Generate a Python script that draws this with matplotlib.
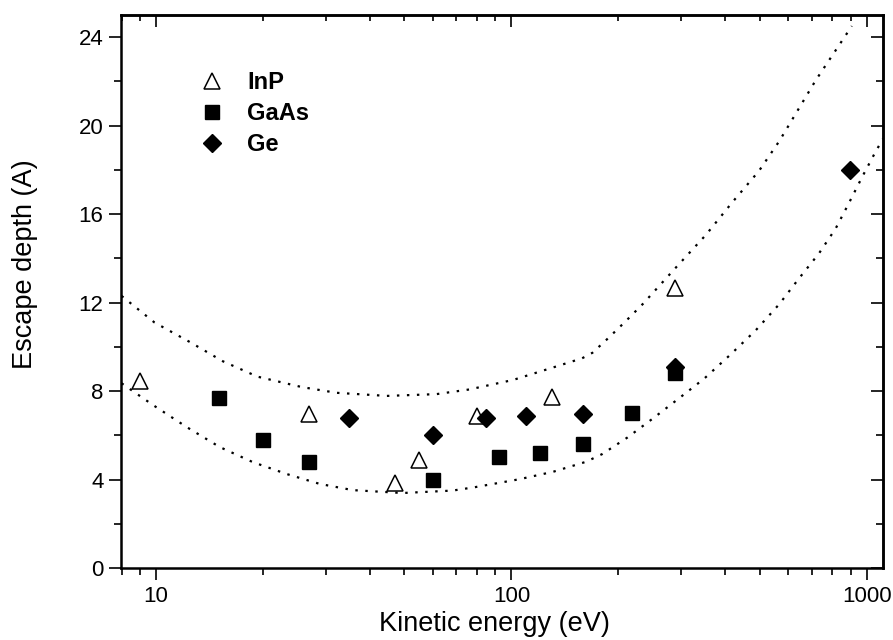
import matplotlib
matplotlib.use("Agg")
import matplotlib.pyplot as plt
from matplotlib.ticker import MultipleLocator, LogLocator, NullFormatter, FixedLocator, FixedFormatter

plt.rcParams['font.family'] = ['Liberation Sans', 'DejaVu Sans']

# measured points (kinetic energy in eV, escape depth in A)
inp_e = [9, 27, 47, 55, 80, 130, 289]
inp_d = [8.45, 6.95, 3.85, 4.9, 6.85, 7.75, 12.65]

gaas_e = [15, 20, 27, 60, 92, 120, 159, 219, 289]
gaas_d = [7.7, 5.8, 4.8, 4.0, 5.0, 5.2, 5.6, 7.0, 8.8]

ge_e = [35, 60, 85, 110, 159, 289, 896]
ge_d = [6.8, 6.0, 6.78, 6.88, 6.97, 9.1, 18.0]

# dotted envelope curves
upper_e = [8.0, 9.9, 12.5, 15.4, 19.3, 25.7, 32.2, 44.6, 61.5, 76, 101, 133, 158, 169,
           188, 210, 234, 287, 352, 419, 497, 567, 718, 907]
upper_d = [12.3, 11.1, 10.2, 9.35, 8.65, 8.18, 7.92, 7.78, 7.86, 8.07, 8.5, 9.1, 9.48, 9.73,
           10.42, 11.17, 11.93, 13.5, 15.05, 16.55, 17.95, 19.3, 22.05, 24.5]

lower_e = [8.0, 9.8, 12.2, 15.1, 18.7, 23.3, 28.9, 35.8, 49.4, 68.3, 78.7, 105, 131, 162,
           180, 212, 250, 296, 349, 414, 487, 567, 644, 733, 817, 889, 970, 1057, 1110]
lower_d = [8.35, 7.37, 6.37, 5.47, 4.79, 4.25, 3.8, 3.52, 3.39, 3.5, 3.65, 4.01, 4.35, 4.8,
           5.15, 5.9, 6.76, 7.67, 8.57, 9.66, 10.75, 11.93, 13.09, 14.22, 15.35, 16.48, 17.68, 18.81, 19.4]

fig = plt.figure(figsize=(8.93, 6.4), dpi=100)
ax = fig.add_axes([121/893, 1 - 568/640, 762/893, 553/640])

dot = (0, (1.1, 3.4))
ax.plot(upper_e, upper_d, color='black', lw=1.6, linestyle=dot)
ax.plot(lower_e, lower_d, color='black', lw=1.6, linestyle=dot)

ax.plot(inp_e, inp_d, linestyle='none', marker='^', ms=12, mfc='white', mec='black', mew=1.1, label='InP')
ax.plot(gaas_e, gaas_d, linestyle='none', marker='s', ms=9.5, color='black', label='GaAs')
ax.plot(ge_e, ge_d, linestyle='none', marker='D', ms=9, color='black', label='Ge')

ax.set_xscale('log')
ax.set_xlim(7.97, 1110)
ax.set_ylim(0, 25)

ax.xaxis.set_major_locator(FixedLocator([10, 100, 1000]))
ax.xaxis.set_major_formatter(FixedFormatter(['10', '100', '1000']))
ax.xaxis.set_minor_locator(LogLocator(base=10, subs=range(2, 10)))
ax.xaxis.set_minor_formatter(NullFormatter())
ax.yaxis.set_major_locator(MultipleLocator(4))
ax.yaxis.set_minor_locator(MultipleLocator(2))

for s in ax.spines.values():
    s.set_linewidth(1.8)

ax.tick_params(which='both', direction='out', width=1.2, labelsize=16, top=False, right=False)
ax.tick_params(which='major', length=8.6, pad=4)
ax.tick_params(which='minor', length=5)

# inward ticks on top and right
ax_top = ax.secondary_xaxis('top')
ax_top.xaxis.set_major_locator(FixedLocator([10, 100, 1000]))
ax_top.xaxis.set_minor_locator(LogLocator(base=10, subs=range(2, 10)))
ax_top.tick_params(which='both', direction='in', width=1.2, labeltop=False)
ax_top.tick_params(which='major', length=8.6)
ax_top.tick_params(which='minor', length=4.5)
ax_top.spines['top'].set_linewidth(1.8)

ax_right = ax.secondary_yaxis('right')
ax_right.yaxis.set_major_locator(MultipleLocator(4))
ax_right.yaxis.set_minor_locator(MultipleLocator(2))
ax_right.tick_params(which='both', direction='in', width=1.2, labelright=False)
ax_right.tick_params(which='major', length=8.6)
ax_right.tick_params(which='minor', length=5)
ax_right.spines['right'].set_linewidth(1.8)

ax.set_xlabel('Kinetic energy (eV)', fontsize=19.5)
ax.set_ylabel('Escape depth (A)', fontsize=19.5)
ax.xaxis.set_label_coords(0.4895, -0.078)
ax.yaxis.set_label_coords(-0.109, 0.55)

ax.legend(loc='upper left', bbox_to_anchor=(200/893, 1 - 71/640), bbox_transform=fig.transFigure,
          frameon=False, numpoints=1, handlelength=1.0, handletextpad=1.0, labelspacing=0.34,
          borderpad=0, borderaxespad=0, prop={'weight': 'bold', 'size': 17})

fig.savefig('out.png', dpi=100)
